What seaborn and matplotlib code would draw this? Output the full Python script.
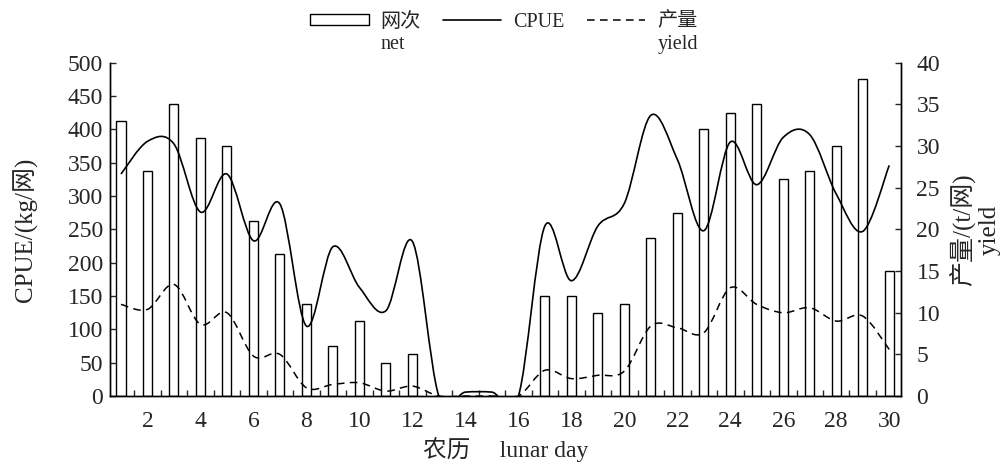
import matplotlib
matplotlib.use("Agg")
import matplotlib.pyplot as plt
from matplotlib.path import Path
from matplotlib.patches import PathPatch, Patch
from matplotlib.lines import Line2D
from matplotlib.ticker import FixedLocator, NullFormatter
import numpy as np
import pandas as pd
import seaborn as sns

# lunar day 1..30
DAYS = list(range(1, 31))
NET = [33, 27, 35, 31, 30, 21, 17, 11, 6, 9, 4, 5, 0, 0, 0, 0,
       12, 12, 10, 11, 19, 22, 32, 34, 35, 26, 27, 30, 38, 15]
CPUE = [333, 382, 378, 276, 333, 233, 288, 105, 224, 163, 128, 232, 0, 6, 6, 0,
        255, 173, 255, 289, 421, 355, 248, 381, 317, 388, 392, 303, 247, 346]
YIELD = [11.0, 10.4, 13.4, 8.6, 10.0, 4.8, 5.0, 1.0, 1.4, 1.6, 0.6, 1.2, 0, 0, 0, 0,
         3.1, 2.1, 2.5, 3.0, 8.4, 8.2, 7.6, 13.0, 11.0, 10.0, 10.6, 9.0, 9.6, 5.6]

LEFT_TICKS = list(range(0, 501, 50))
RIGHT_TICKS = list(range(0, 41, 5))
XTICKS = list(range(2, 31, 2))

sns.set_style("ticks")
plt.rcParams["font.family"] = ["Liberation Serif", "Noto Sans CJK SC"]
plt.rcParams["axes.unicode_minus"] = False

DASH = (0, (5, 3.5))


def smooth_path(xs, ys):
    """Cubic Bezier path through the points (Excel-like smoothed line)."""
    xs = np.asarray(xs, float)
    ys = np.asarray(ys, float)
    n = len(xs)
    verts = [(xs[0], ys[0])]
    codes = [Path.MOVETO]
    for i in range(n - 1):
        i0 = max(i - 1, 0)
        i3 = min(i + 2, n - 1)
        c1 = (xs[i] + (xs[i + 1] - xs[i0]) / 6, ys[i] + (ys[i + 1] - ys[i0]) / 6)
        c2 = (xs[i + 1] - (xs[i3] - xs[i]) / 6, ys[i + 1] - (ys[i3] - ys[i]) / 6)
        verts += [c1, c2, (xs[i + 1], ys[i + 1])]
        codes += [Path.CURVE4] * 3
    return Path(verts, codes)


df = pd.DataFrame({"day": DAYS, "net": NET, "cpue": CPUE, "yield": YIELD})

fig, ax = plt.subplots(figsize=(10.08, 4.71), dpi=100)
fig.subplots_adjust(left=0.109, right=0.894, bottom=0.159, top=0.867)
ax2 = ax.twinx()

# bars (net) and yield on the right axis
sns.barplot(data=df, x="day", y="net", ax=ax2, native_scale=True, width=0.34,
            color="white", edgecolor="black", linewidth=1.0, saturation=1,
            errorbar=None)
ax2.add_patch(PathPatch(smooth_path(df["day"], df["yield"]), fill=False,
                        edgecolor="black", linewidth=1.1, linestyle=DASH,
                        zorder=3))

# CPUE on the left axis, drawn above the bars
ax.set_zorder(ax2.get_zorder() + 1)
ax.patch.set_visible(False)
ax.add_patch(PathPatch(smooth_path(df["day"], df["cpue"]), fill=False,
                       edgecolor="black", linewidth=1.2, zorder=3))

ax.set_xlim(0.58, 30.45)
ax.set_ylim(0, 500)
ax2.set_ylim(0, 40)
ax.set_yticks(LEFT_TICKS)
ax2.set_yticks(RIGHT_TICKS)
ax.set_xticks(XTICKS)
ax.xaxis.set_minor_locator(FixedLocator(np.arange(1.5, 30.5, 1.0)))
ax.xaxis.set_minor_formatter(NullFormatter())

ax.tick_params(axis="x", which="major", length=0, pad=11, labelsize=17)
ax.tick_params(axis="x", which="minor", direction="in", length=4, width=1)
ax.tick_params(axis="y", direction="in", length=4, width=1, pad=5, labelsize=17)
ax2.tick_params(axis="y", direction="in", length=4, width=1, pad=11, labelsize=17)

for a in (ax, ax2):
    a.spines["top"].set_visible(False)
    for s in ("left", "right", "bottom"):
        a.spines[s].set_linewidth(1.0)
        a.spines[s].set_color("black")

ax.set_xlabel("农历     lunar day", fontsize=17, labelpad=3)
ax.set_ylabel("CPUE/(kg/网)", fontsize=18, labelpad=21)
ax2.set_ylabel("产量/(t/网)\nyield", fontsize=18, labelpad=6, rotation=90,
               linespacing=1.25)

handles = [Patch(facecolor="white", edgecolor="black", linewidth=1.0),
           Line2D([], [], color="black", linewidth=1.2),
           Line2D([], [], color="black", linewidth=1.1, linestyle=DASH)]
leg = ax.legend(handles, ["网次", "CPUE", "产量"], loc="upper center",
                bbox_to_anchor=(0.5, 1.003), bbox_transform=fig.transFigure,
                ncol=3, frameon=False, fontsize=14.5, handlelength=2.9,
                handleheight=0.45, handletextpad=0.6, columnspacing=1.1,
                borderpad=0.2)

# second-line English labels under the Chinese legend entries
fig.canvas.draw()
inv = fig.transFigure.inverted()
for txt, sub in ((leg.get_texts()[0], "net"), (leg.get_texts()[2], "yield")):
    bb = txt.get_window_extent()
    x0, y0 = inv.transform((bb.x0, bb.y0))
    fig.text(x0, y0 - 0.006, sub, ha="left", va="top", fontsize=14.5)

fig.savefig("out.png", dpi=100)
plt.close(fig)
